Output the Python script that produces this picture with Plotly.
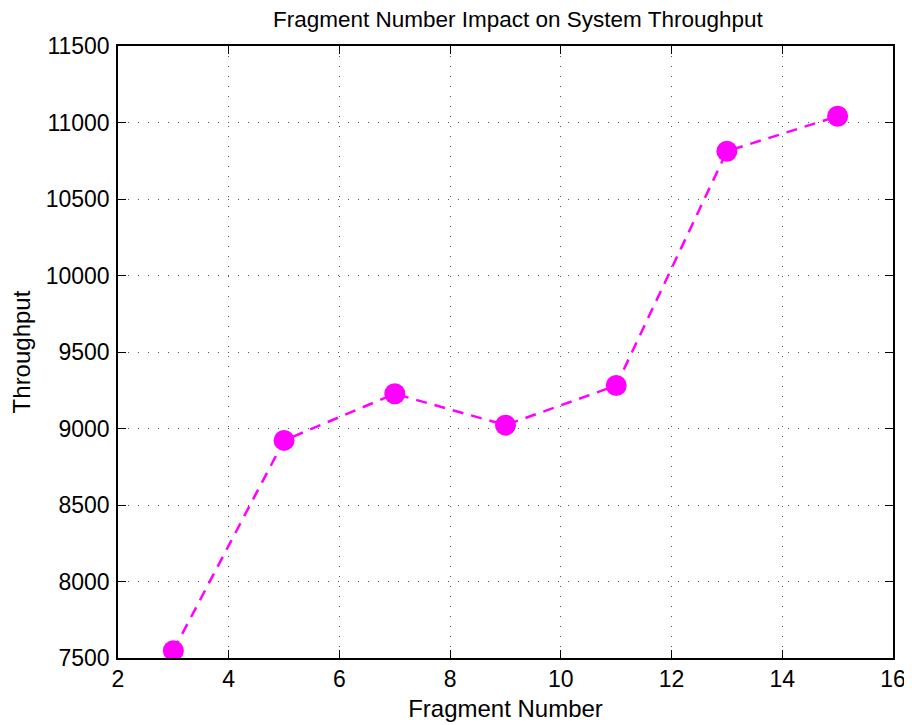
import plotly.graph_objects as go

fragment_number = [3, 5, 7, 9, 11, 13, 15]
throughput = [7548, 8922, 9227, 9022, 9281, 10812, 11041]
x_ticks = [2, 4, 6, 8, 10, 12, 14, 16]
y_ticks = [7500, 8000, 8500, 9000, 9500, 10000, 10500, 11000, 11500]

FONT = "Liberation Sans, Arial, sans-serif"

fig = go.Figure()
fig.add_trace(go.Scatter(
    x=fragment_number, y=throughput,
    mode="lines+markers",
    line=dict(color="#FF00FF", width=2.5, dash="11px,8px"),
    marker=dict(color="#FF00FF", size=21),
    showlegend=False,
))

axis_common = dict(
    showline=True, linecolor="black", linewidth=1.5, mirror="ticks",
    ticks="inside", ticklen=8, tickwidth=1.2, tickcolor="black",
    showgrid=True, gridcolor="#555555", gridwidth=1, griddash="1px,9px",
    zeroline=False, automargin=False,
    tickfont=dict(family=FONT, size=23, color="black"),
)

# page body has an 8px margin, so the figure is sized to fit the window
fig.update_layout(
    width=904, height=717,
    margin=dict(l=110, r=19, t=38, b=67),
    plot_bgcolor="white", paper_bgcolor="white",
    title=dict(text="Fragment Number Impact on System Throughput",
               x=0.564, xanchor="center", y=0.985, yanchor="middle",
               font=dict(family=FONT, size=22.5, color="black")),
    xaxis=dict(range=[2, 16], tickvals=x_ticks, ticktext=[str(v) for v in x_ticks],
               title=dict(text="Fragment Number", font=dict(family=FONT, size=24, color="black"), standoff=9),
               **axis_common),
    yaxis=dict(range=[7500, 11500], tickvals=y_ticks, ticktext=[str(v) for v in y_ticks],
               ticklabelstandoff=2,
               title=dict(text="Throughput", font=dict(family=FONT, size=24, color="black"), standoff=12),
               **axis_common),
)

fig.write_html("out.html")
